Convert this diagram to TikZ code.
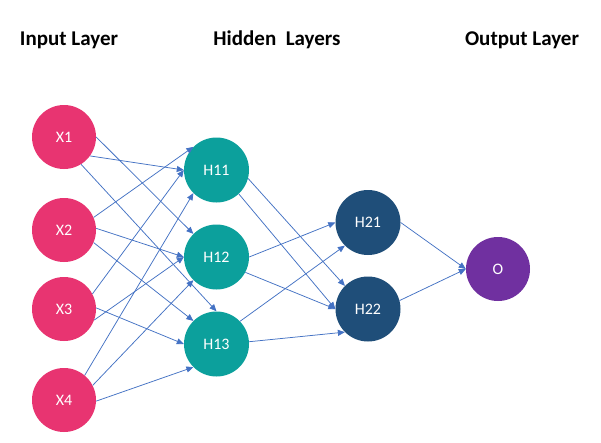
\documentclass[tikz,border=0pt]{standalone}
\usepackage{fontspec}
\setmainfont{Carlito}
\usetikzlibrary{arrows.meta}
\definecolor{inpink}{RGB}{232,52,113}
\definecolor{hteal}{RGB}{12,160,156}
\definecolor{hblue}{RGB}{31,78,121}
\definecolor{opurple}{RGB}{112,48,160}
\definecolor{edgeblue}{RGB}{68,114,196}
\begin{document}
\begin{tikzpicture}[x=1pt,y=-1pt,
  neuron/.style={circle,minimum size=64pt,inner sep=0pt,text=white,
    font=\fontsize{16}{19}\selectfont},
  inp/.style={neuron,fill=inpink},
  hida/.style={neuron,fill=hteal,minimum size=65pt},
  hidb/.style={neuron,fill=hblue,minimum size=65pt},
  outp/.style={neuron,fill=opurple},
  title/.style={font=\bfseries\fontsize{21}{24}\selectfont,anchor=base},
  conn/.style={draw=edgeblue,line width=0.75pt,-{Triangle[length=7pt,width=6pt]}}]
\useasboundingbox (0,0) rectangle (601,442);
\fill[white] (0,0) rectangle (601,442);
% titles
\node[title] (tin) at (69,45) {Input Layer};
\node[title] (thid) at (277,45) {Hidden\ \ Layers};
\node[title] (tout) at (522,45) {Output Layer};
% nodes
\node[inp] (X1) at (64,137) {X1};
\node[inp] (X2) at (64,230) {X2};
\node[inp] (X3) at (64,309) {X3};
\node[inp] (X4) at (64,400) {X4};
\node[hida] (H11) at (216.5,170) {H11};
\node[hida] (H12) at (216.5,257) {H12};
\node[hida] (H13) at (216.5,344) {H13};
\node[hidb] (H21) at (368,222.5) {H21};
\node[hidb] (H22) at (368,309) {H22};
\node[outp] (O) at (498,269) {O};
% input -> hidden 1
\draw[conn] (X1.-36) -- (H11.180);
\draw[conn] (X1.0) -- (H12.135);
\draw[conn] (X1.-58) -- (H13.90);
\draw[conn] (X2.23) -- (H11.135);
\draw[conn] (X2.3) -- (H12.180);
\draw[conn] (X2.-23) -- (H13.135);
\draw[conn] (X3.28) -- (H11.180);
\draw[conn] (X3.-20) -- (H12.180);
\draw[conn] (X3.2) -- (H13.180);
\draw[conn] (X4.50) -- (H11.225);
\draw[conn] (X4.27) -- (H12.225);
\draw[conn] (X4.-2) -- (H13.225);
% hidden 1 -> hidden 2
\draw[conn] (H11.-15) -- (H22.135);
\draw[conn] (H11.-47) -- (H22.180);
\draw[conn] (H12.0) -- (H21.180);
\draw[conn] (H12.-28) -- (H22.180);
\draw[conn] (H13.44) -- (H21.225);
\draw[conn] (H13.4) -- (H22.225);
% hidden 2 -> output
\draw[conn] (H21.0) -- (O.180);
\draw[conn] (H22.15) -- (O.180);
\end{tikzpicture}
\end{document}
